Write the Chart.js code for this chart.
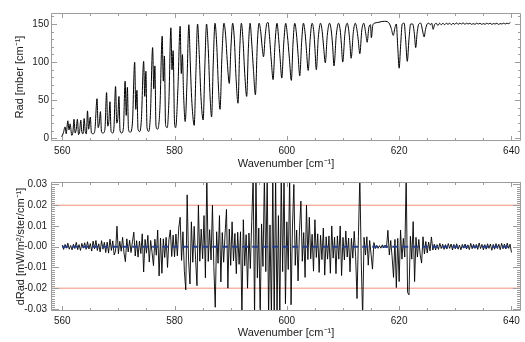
<!DOCTYPE html>
<html>
<head>
<meta charset="utf-8">
<script src="https://cdn.jsdelivr.net/npm/chart.js@4.4.0/dist/chart.umd.min.js"></script>
<style>
  html, body { margin: 0; padding: 0; background: #fff; }
  #wrap { position: relative; width: 525px; height: 342px; }
  canvas { position: absolute; left: 0; }
  #radChart { top: 0; }
  #dradChart { top: 171px; }
</style>
</head>
<body>
<div id="wrap">
  <canvas id="radChart" width="525" height="171"></canvas>
  <canvas id="dradChart" width="525" height="171"></canvas>
</div>
<script>
// spectrum: wavenumber [cm-1] and radiance
const specWn = [
  559.9, 560.2, 560.5, 560.7, 561.0, 561.2, 561.4, 561.7, 561.9, 562.1, 562.3, 562.5, 562.7, 562.9,
  563.1, 563.3, 563.5, 563.7, 563.9, 564.1, 564.3, 564.5, 564.7, 565.0, 565.2, 565.5, 565.8, 566.2,
  566.4, 566.6, 566.8, 567.0, 567.3, 567.6, 567.9, 568.1, 568.3, 568.5, 568.7, 569.0, 569.2, 569.5,
  569.7, 569.9, 570.1, 570.3, 570.6, 570.9, 571.2, 571.4, 571.6, 571.8, 572.1, 572.5, 572.9, 573.1,
  573.3, 573.5, 573.8, 574.1, 574.5, 574.7, 574.9, 575.1, 575.4, 575.7, 576.1, 576.3, 576.5, 576.7,
  577.0, 577.4, 577.8, 578.0, 578.2, 578.4, 578.7, 579.0, 579.35, 579.55, 579.75, 580.0, 580.2, 580.6,
  581.0, 581.2, 581.4, 581.6, 581.9, 582.2, 582.55, 582.8, 583.0, 583.2, 583.5, 583.8, 584.1, 584.4,
  584.7, 585.1, 585.4, 585.7, 586.0, 586.3, 586.6, 586.9, 587.2, 587.5, 587.8, 588.1, 588.45, 588.8,
  589.1, 589.4, 589.75, 590.05, 590.35, 590.65, 590.95, 591.3, 591.6, 591.9, 592.2, 592.5, 592.85, 593.15,
  593.45, 593.75, 594.05, 594.4, 594.75, 595.05, 595.35, 595.6, 595.85, 596.15, 596.45, 596.65, 596.95, 597.25,
  597.55, 597.9, 598.25, 598.55, 598.8, 599.1, 599.45, 599.8, 600.1, 600.45, 600.8, 601.1, 601.4, 601.7,
  602.0, 602.3, 602.65, 602.95, 603.25, 603.5, 603.8, 604.15, 604.5, 604.8, 605.0, 605.25, 605.6, 606.0,
  606.3, 606.55, 606.85, 607.2, 607.6, 607.9, 608.15, 608.4, 608.8, 609.2, 609.5, 609.7, 609.95, 610.35,
  610.75, 611.0, 611.2, 611.45, 611.85, 612.2, 612.45, 612.7, 613.0, 613.35, 613.7, 613.9, 614.1, 614.3,
  614.6, 614.9, 615.05, 615.3, 615.6, 616.2, 616.8, 617.4, 617.9, 618.3, 618.6, 618.95, 619.25, 619.5,
  619.75, 620.0, 620.25, 620.55, 620.9, 621.15, 621.45, 621.75, 622.05, 622.4, 622.7, 622.95, 623.2, 623.5,
  623.85, 624.15, 624.45, 624.7, 625.0, 625.3, 625.55, 625.8, 626.05, 626.3, 626.6, 626.9, 627.2, 627.5,
  627.8, 628.1, 628.4, 628.7, 629.0, 629.3, 629.6, 629.9, 630.2, 630.5, 630.8, 631.1, 631.4, 631.7,
  632.0, 632.3, 632.6, 632.9, 633.2, 633.5, 633.8, 634.1, 634.4, 634.7, 635.0, 635.3, 635.6, 635.9,
  636.2, 636.5, 636.8, 637.1, 637.4, 637.7, 638.0, 638.3, 638.6, 638.9, 639.2, 639.5, 639.8
];
const specRad = [
  2, 7, 15, 6, 23, 11, 19, 4, 8, 25, 7, 12, 25, 5,
  9, 24, 8, 6, 26, 9, 6, 36, 12, 28, 7, 6, 10, 52,
  14, 20, 35, 8, 7, 12, 60, 16, 22, 48, 9, 7, 13, 68,
  20, 26, 55, 10, 7, 14, 75, 30, 67, 12, 8, 20, 100, 38,
  63, 12, 9, 25, 101, 55, 88, 14, 9, 30, 119, 65, 95, 16,
  12, 40, 134, 75, 108, 18, 14, 50, 145, 90, 115, 20, 14, 65,
  147, 85, 110, 60, 22, 70, 149, 100, 60, 35, 17, 85, 150, 110,
  55, 24, 95, 150, 118, 60, 28, 100, 151, 125, 70, 38, 110, 151,
  135, 100, 72, 120, 151, 130, 80, 46, 115, 151, 128, 85, 55, 118,
  151, 125, 90, 57, 125, 151, 140, 120, 107, 135, 151, 152, 130, 100,
  77, 125, 151, 130, 105, 79, 125, 151, 135, 105, 76, 125, 151, 138,
  110, 82, 128, 151, 138, 115, 89, 130, 151, 140, 118, 90, 132, 151,
  140, 120, 99, 135, 151, 142, 122, 95, 135, 151, 142, 125, 100, 138,
  151, 143, 128, 105, 140, 151, 144, 130, 111, 142, 151, 145, 135, 126,
  145, 149, 132, 148, 151, 152, 153, 153.5, 153, 150, 144, 135, 145, 150,
  120, 92, 120, 150, 151, 130, 101, 130, 150, 150, 138, 119, 138, 150,
  151, 142, 133, 143, 150, 151, 149, 151, 143, 149, 151, 148, 151, 149,
  151, 149, 151, 149.5, 151, 149, 151, 149.5, 151.5, 149.5, 151, 150, 151.5, 149.5,
  151, 150, 151, 149.5, 150.5, 149.5, 151, 150, 151, 149.5, 150.5, 149.5, 151, 150,
  151, 149.5, 150.5, 150, 151, 149.5, 150.5, 150, 151, 150, 151, 150.5, 152
];

// residuals, sampled every 0.25 cm-1 from 560
const residStart = 560;
const residStep = 0.25;
const dRad = [
  0.0008, -0.0013, 0.0011, -0.0007, 0.0017, -0.0012, 0.0006, -0.0015,
  0.0012, -0.0009, 0.0021, -0.0014, 0.0010, -0.0018, 0.0016, -0.0007,
  0.0019, -0.0013, 0.0024, -0.0011, 0.0015, -0.0021, 0.0027, -0.0010,
  0.0030, -0.0018, 0.0014, -0.0025, 0.0029, -0.0012, 0.0021, -0.0028,
  0.0022, -0.0031, 0.0036, -0.0018, 0.0028, -0.0040, -0.0021, 0.0099,
  -0.0034, 0.0026, -0.0022, 0.0045, -0.0030, -0.0072, 0.0038, -0.0025,
  0.0031, -0.0028, 0.0024, 0.0070, -0.0045, 0.0029, -0.0050, 0.0027,
  -0.0033, 0.0062, -0.0122, 0.0035, -0.0031, 0.0055, -0.0074, 0.0030,
  -0.0028, -0.0091, 0.0036, -0.0041, 0.0080, -0.0141, 0.0042, -0.0128,
  0.0038, -0.0052, 0.0045, -0.0100, 0.0034, 0.0081, -0.0047, 0.0056,
  -0.0049, 0.0061, -0.0044, 0.0090, 0.0142, -0.0066, 0.0072, -0.0118,
  -0.0208, 0.0250, -0.0065, -0.0180, 0.0120, -0.0075, 0.0098, -0.0062,
  -0.0188, 0.0200, -0.0070, 0.0085, -0.0058, 0.0150, -0.0150, 0.0340,
  -0.0071, 0.0082, -0.0064, 0.0200, -0.0095, -0.0292, 0.0072, -0.0080,
  0.0150, -0.0170, 0.0068, -0.0075, 0.0062, 0.0180, -0.0200, 0.0085,
  -0.0090, 0.0120, -0.0068, 0.0064, -0.0130, 0.0070, -0.0085, 0.0072,
  -0.0340, 0.0130, -0.0092, 0.0058, -0.0200, 0.0066, -0.0105, 0.0122,
  0.0340, -0.0340, 0.0340, -0.0150, 0.0090, -0.0340, 0.0110, -0.0095,
  0.0340, -0.0120, 0.0340, -0.0340, 0.0105, -0.0340, 0.0340, -0.0340,
  0.0340, -0.0340, 0.0150, -0.0340, 0.0340, -0.0120, 0.0340, -0.0275,
  0.0120, -0.0110, 0.0340, -0.0280, 0.0095, 0.0300, -0.0090, 0.0080,
  -0.0165, 0.0075, 0.0220, -0.0070, 0.0068, -0.0148, 0.0200, -0.0062,
  0.0142, -0.0058, 0.0060, -0.0118, 0.0130, -0.0052, 0.0062, -0.0124,
  0.0055, -0.0062, 0.0090, -0.0137, 0.0048, -0.0060, 0.0052, -0.0128,
  0.0100, -0.0055, 0.0046, -0.0130, 0.0052, -0.0060, 0.0100, -0.0139,
  0.0045, -0.0064, 0.0076, -0.0050, 0.0042, -0.0121, 0.0040, -0.0055,
  0.0074, -0.0048, -0.0250, 0.0050, 0.0340, -0.0070, -0.0340, 0.0045,
  -0.0040, 0.0048, -0.0089, 0.0030, -0.0036, -0.0108, 0.0020, -0.0009,
  0.0006, -0.0008, 0.0005, -0.0007, 0.0009, -0.0006, 0.0008, -0.0005,
  0.0079, -0.0040, 0.0030, -0.0050, -0.0148, 0.0035, -0.0197, 0.0040,
  -0.0168, 0.0080, -0.0060, 0.0040, -0.0050, 0.0340, -0.0221, -0.0232,
  0.0050, -0.0060, 0.0121, -0.0168, 0.0045, -0.0050, 0.0035, -0.0040,
  -0.0079, 0.0048, -0.0035, 0.0025, -0.0030, 0.0022, -0.0020, 0.0047,
  -0.0016, 0.0012, -0.0015, 0.0010, -0.0013, 0.0016, -0.0009, 0.0012,
  -0.0013, 0.0010, -0.0011, 0.0015, -0.0008, 0.0013, -0.0016, 0.0011,
  -0.0010, 0.0014, -0.0012, 0.0008, -0.0015, 0.0011, -0.0007, 0.0013,
  -0.0011, 0.0009, -0.0014, 0.0016, -0.0010, 0.0012, -0.0008, 0.0011,
  -0.0013, 0.0018, -0.0009, 0.0011, -0.0015, 0.0010, -0.0012, 0.0014,
  -0.0008, 0.0013, -0.0017, 0.0011, -0.0012, 0.0015, -0.0009, 0.0012,
  -0.0014, 0.0016, -0.0010, 0.0013, -0.0011, 0.0017, -0.0008, 0.0012,
  -0.0028
];

// reference lines in the residual panel
const zeroLineWn = [560, 640];
const limitLevels = [0.02, -0.02];

// axis ranges and tick labels
const wnRange = [558, 641.7];
const wnTicks = [560, 580, 600, 620, 640];
const radRange = [-3.5, 164.4];
const radTicks = [0, 50, 100, 150];
const dRadRange = [-0.031, 0.0312];
const dRadTicks = [-0.03, -0.02, -0.01, 0, 0.01, 0.02, 0.03];
const dRadTickLabels = ['-0.03', '-0.02', '-0.01', '-0.00', '0.01', '0.02', '0.03'];

const FONT = "'Liberation Sans', Arial, Helvetica, sans-serif";
const TEXT = '#1a1a1a';
const FRAME = '#9c9c9c';

// IDL-style box: frame plus inward ticks on all four sides
const frameTicks = {
  id: 'frameTicks',
  afterDatasetsDraw(chart, args, o) {
    const {ctx, chartArea: a, scales: {x, y}} = chart;
    ctx.save();
    ctx.strokeStyle = FRAME;
    ctx.lineWidth = 1;
    ctx.beginPath();
    ctx.rect(a.left + 0.5, a.top + 0.5, a.right - a.left - 1, a.bottom - a.top - 1);
    const eps = 1e-9;
    for (let v = o.xFrom; v <= o.xTo + eps; v += o.xMinor) {
      const major = Math.abs(v / o.xMajor - Math.round(v / o.xMajor)) < 1e-6;
      const len = major ? o.xMajorLen : o.xMinorLen;
      const px = Math.round(x.getPixelForValue(v)) + 0.5;
      ctx.moveTo(px, a.bottom); ctx.lineTo(px, a.bottom - len);
      ctx.moveTo(px, a.top); ctx.lineTo(px, a.top + len);
    }
    const n = Math.round((o.yTo - o.yFrom) / o.yMinor);
    for (let i = 0; i <= n; i++) {
      const v = o.yFrom + i * o.yMinor;
      const major = i % o.yPerMajor === 0;
      const len = major ? o.yMajorLen : o.yMinorLen;
      const py = Math.round(y.getPixelForValue(v)) + 0.5;
      ctx.moveTo(a.left, py); ctx.lineTo(a.left + len, py);
      ctx.moveTo(a.right, py); ctx.lineTo(a.right - len, py);
    }
    ctx.stroke();
    ctx.restore();
  }
};

function xAxis(labelPad, titlePadBottom, height) {
  return {
    type: 'linear',
    min: wnRange[0],
    max: wnRange[1],
    grid: { display: false, drawTicks: false },
    border: { display: false },
    afterBuildTicks: s => { s.ticks = wnTicks.map(v => ({ value: v })); },
    afterFit: s => { s.height = height; },
    ticks: {
      autoSkip: false, maxRotation: 0, padding: labelPad,
      color: TEXT, font: { family: FONT, size: 10 },
      callback: v => String(v)
    },
    title: {
      display: true, text: 'Wavenumber [cm\u207B\u00B9]',
      color: TEXT, font: { family: FONT, size: 11 },
      padding: { top: 0, bottom: titlePadBottom }
    }
  };
}

new Chart(document.getElementById('radChart'), {
  type: 'line',
  data: {
    datasets: [{
      data: specWn.map((w, i) => ({ x: w, y: specRad[i] })),
      borderColor: '#000',
      borderWidth: 1,
      pointRadius: 0,
      cubicInterpolationMode: 'monotone'
    }]
  },
  options: {
    responsive: false,
    animation: false,
    devicePixelRatio: 1,
    layout: { padding: { left: 0, right: 4, top: 13, bottom: 0 } },
    plugins: {
      legend: { display: false },
      tooltip: { enabled: false },
      frameTicks: {
        xFrom: 560, xTo: 640, xMinor: 5, xMajor: 20, xMajorLen: 5, xMinorLen: 3,
        yFrom: 0, yTo: 160, yMinor: 10, yPerMajor: 5, yMajorLen: 6, yMinorLen: 3
      }
    },
    scales: {
      x: xAxis(4, 0, 30),
      y: {
        min: radRange[0],
        max: radRange[1],
        grid: { display: false, drawTicks: false },
        border: { display: false },
        afterBuildTicks: s => { s.ticks = radTicks.map(v => ({ value: v })); },
        afterFit: s => { s.width = 51; },
        ticks: {
          padding: 2, color: TEXT, font: { family: FONT, size: 10 },
          callback: v => String(v)
        },
        title: {
          display: true, text: 'Rad [mber [cm\u207B\u00B9]',
          color: TEXT, font: { family: FONT, size: 11 },
          padding: { top: 13, bottom: 0 }
        }
      }
    }
  },
  plugins: [frameTicks]
});

new Chart(document.getElementById('dradChart'), {
  type: 'line',
  data: {
    datasets: [
      {
        data: zeroLineWn.map(w => ({ x: w, y: 0 })),
        borderColor: '#24408e',
        borderWidth: 2,
        borderDash: [6, 4],
        pointRadius: 0
      },
      {
        data: dRad.map((v, i) => ({ x: residStart + i * residStep, y: v })),
        borderColor: '#000',
        borderWidth: 0.9,
        pointRadius: 0
      },
      ...limitLevels.map(lv => ({
        data: wnRange.map(w => ({ x: w, y: lv })),
        borderColor: '#f4917c',
        borderWidth: 1,
        pointRadius: 0
      }))
    ]
  },
  options: {
    responsive: false,
    animation: false,
    devicePixelRatio: 1,
    layout: { padding: { left: 0, right: 4, top: 11, bottom: 0 } },
    plugins: {
      legend: { display: false },
      tooltip: { enabled: false },
      frameTicks: {
        xFrom: 560, xTo: 640, xMinor: 5, xMajor: 20, xMajorLen: 5, xMinorLen: 3,
        yFrom: -0.03, yTo: 0.031, yMinor: 0.001, yPerMajor: 10, yMajorLen: 8, yMinorLen: 4
      }
    },
    scales: {
      x: xAxis(4.5, 2, 31),
      y: {
        min: dRadRange[0],
        max: dRadRange[1],
        grid: { display: false, drawTicks: false },
        border: { display: false },
        afterBuildTicks: s => { s.ticks = dRadTicks.map(v => ({ value: v })); },
        afterFit: s => { s.width = 51; },
        ticks: {
          padding: 4, color: TEXT, font: { family: FONT, size: 10 },
          callback: (v, i) => dRadTickLabels[i]
        },
        title: {
          display: true, text: 'dRad [mW/m\u00B2/ster/cm\u207B\u00B9]',
          color: TEXT, font: { family: FONT, size: 11 },
          padding: { top: 14, bottom: 0 }
        }
      }
    }
  },
  plugins: [frameTicks]
});
</script>
</body>
</html>
